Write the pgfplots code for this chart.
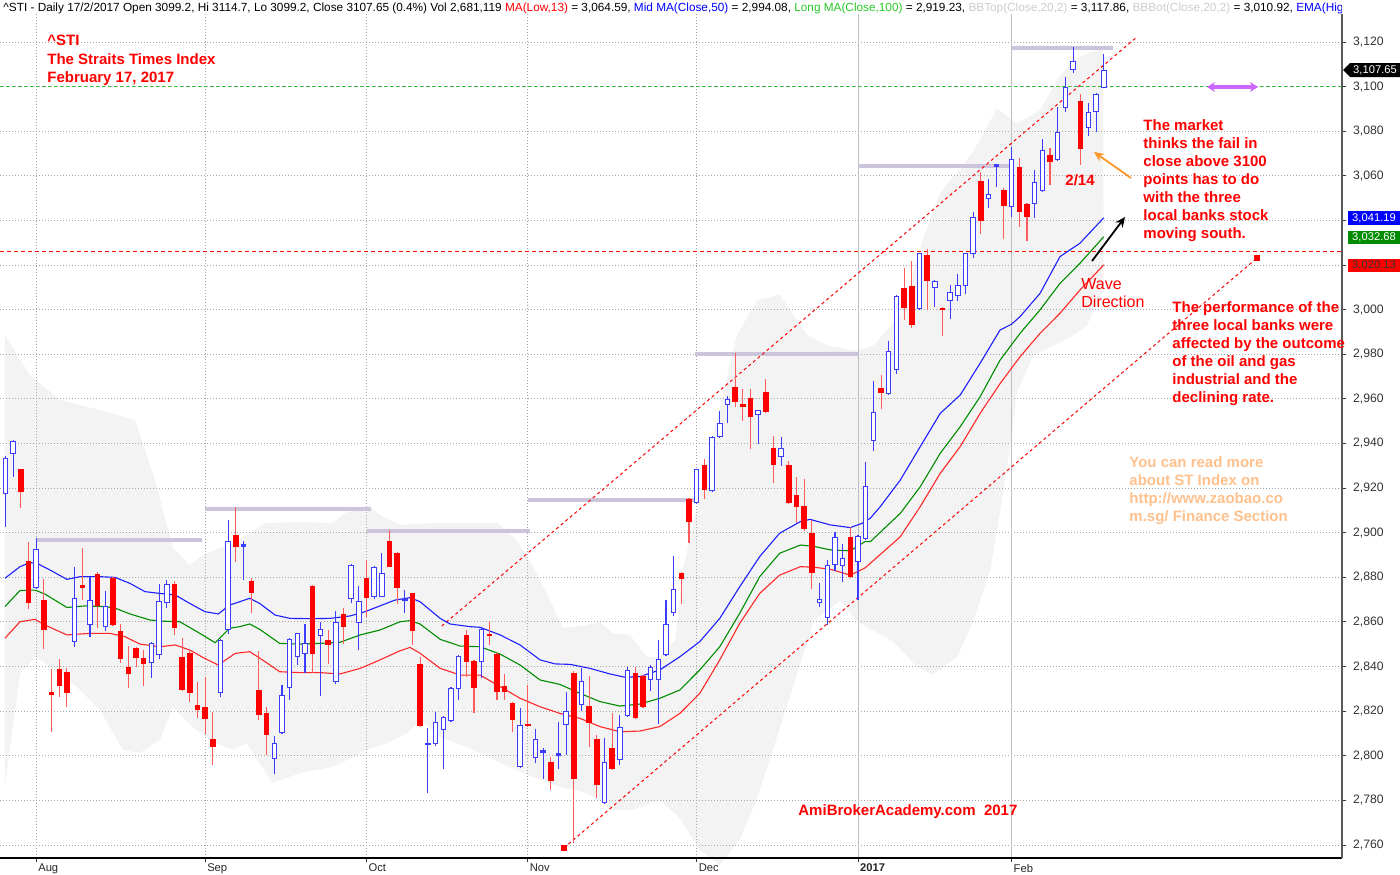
\documentclass[border=0pt]{standalone}
\usepackage{pgfplots}
\pgfplotsset{compat=1.18}
\usepackage{pgfplotstable}
\usepackage{fontspec}
\setmainfont{Liberation Sans}
\usetikzlibrary{arrows.meta}
\definecolor{cblue}{RGB}{60,60,255}
\definecolor{cwickred}{RGB}{255,90,90}
\definecolor{bbfill}{RGB}{243,243,243}
\definecolor{resist}{RGB}{204,196,218}
\definecolor{magarrow}{RGB}{204,102,255}
\definecolor{peach}{RGB}{255,192,140}
\definecolor{maBlue}{RGB}{30,30,255}
\definecolor{maGreen}{RGB}{0,140,0}
\definecolor{maRed}{RGB}{255,40,40}
\definecolor{hdrgreen}{RGB}{40,200,40}
\definecolor{orarrow}{RGB}{255,150,40}
\definecolor{dashred}{RGB}{255,0,0}

\pgfplotstableread{
i o h l c
0 2917.4 2934.5 2902.6 2933.6
1 2935.5 2941.5 2925.0 2941.2
4 2875.1 2897.8 2874.8 2892.6
9 2850.9 2884.5 2848.9 2870.6
11 2858.6 2880.3 2853.4 2869.7
13 2857.9 2874.0 2856.0 2867.2
19 2841.4 2851.0 2835.0 2850.4
20 2845.2 2877.0 2843.6 2869.4
21 2868.3 2879.0 2866.4 2877.0
28 2828.3 2852.5 2826.5 2851.8
29 2856.4 2905.7 2854.5 2896.4
31 2894.0 2896.5 2878.8 2894.8
35 2798.4 2809.0 2791.8 2805.6
36 2810.2 2831.7 2810.0 2827.3
37 2830.3 2852.8 2825.0 2852.3
38 2844.2 2855.2 2840.7 2854.9
39 2845.6 2859.0 2837.3 2850.4
41 2853.7 2860.0 2826.8 2856.9
43 2832.9 2865.0 2832.0 2860.0
45 2870.2 2885.8 2868.7 2885.5
46 2859.4 2876.0 2847.4 2869.4
48 2871.0 2885.2 2870.5 2884.8
49 2871.3 2890.9 2871.0 2881.8
52 2869.6 2874.3 2863.9 2870.4
55 2804.9 2812.3 2783.5 2805.7
56 2805.1 2819.6 2804.5 2815.0
57 2811.6 2817.8 2793.9 2817.3
58 2815.6 2830.8 2815.0 2830.3
59 2829.8 2845.2 2825.0 2844.8
62 2842.2 2857.9 2834.7 2856.7
67 2794.9 2821.3 2794.5 2813.7
69 2799.0 2811.9 2796.9 2807.4
70 2801.5 2803.3 2789.5 2802.3
72 2800.3 2815.3 2793.9 2801.1
73 2813.7 2828.8 2800.4 2820.1
75 2822.7 2839.5 2820.2 2833.7
78 2778.7 2807.9 2778.3 2797.4
80 2798.1 2818.3 2795.9 2813.1
81 2817.9 2840.0 2817.5 2838.5
84 2834.0 2840.5 2829.2 2839.7
85 2834.0 2851.9 2814.3 2843.6
86 2845.2 2869.8 2844.8 2859.1
87 2864.2 2889.6 2862.7 2874.6
90 2913.2 2928.8 2912.8 2928.4
92 2918.8 2943.4 2918.4 2943.0
93 2943.0 2954.7 2942.6 2949.0
94 2957.4 2961.3 2949.0 2959.8
98 2952.8 2955.2 2940.0 2954.9
101 2934.1 2943.0 2930.0 2937.8
106 2868.6 2877.3 2866.5 2870.4
107 2861.6 2888.0 2858.6 2885.5
108 2885.5 2900.5 2883.0 2897.9
109 2885.2 2895.0 2878.0 2888.8
111 2886.7 2899.1 2869.7 2898.7
112 2897.1 2931.8 2896.7 2921.1
113 2941.3 2968.0 2936.8 2954.1
115 2962.2 2986.1 2961.8 2981.6
116 2973.0 3006.5 2971.0 3006.1
119 3000.3 3025.6 2999.9 3025.2
121 3009.9 3013.1 3001.0 3012.7
123 3004.0 3011.2 2995.7 3008.1
124 3006.3 3016.0 3004.0 3011.0
125 3010.6 3025.6 3007.0 3025.2
126 3024.8 3043.8 3023.0 3041.7
128 3049.5 3058.4 3045.4 3051.9
129 3064.3 3065.3 3055.1 3065.1
131 3045.9 3072.8 3041.7 3067.5
134 3047.4 3062.6 3041.0 3057.1
135 3053.2 3076.4 3052.8 3071.6
137 3067.1 3091.0 3066.7 3079.8
138 3090.3 3104.2 3088.8 3100.0
139 3107.4 3117.6 3106.0 3111.6
141 3081.3 3092.8 3077.9 3088.5
142 3088.5 3097.1 3079.5 3096.7
143 3099.2 3114.7 3099.2 3107.65
}\upC

\pgfplotstableread{
i o h l c
2 2928.4 2928.6 2911.2 2918.4
3 2887.5 2896.0 2865.8 2868.4
5 2869.8 2879.1 2848.0 2856.4
6 2828.3 2839.0 2810.8 2827.3
7 2839.0 2843.6 2826.5 2831.4
8 2837.7 2839.2 2821.8 2828.0
10 2876.3 2893.0 2869.8 2875.4
12 2881.5 2882.5 2857.2 2867.3
14 2879.6 2880.3 2858.0 2858.6
15 2855.8 2859.0 2841.8 2843.3
16 2839.8 2849.2 2830.3 2836.7
17 2848.3 2848.8 2840.0 2844.0
18 2843.8 2847.4 2831.4 2841.0
22 2876.9 2878.5 2854.2 2857.2
23 2844.1 2852.8 2829.0 2829.5
24 2846.2 2846.8 2824.3 2828.3
25 2822.7 2833.0 2817.0 2820.5
26 2822.0 2835.5 2809.8 2816.4
27 2807.4 2819.8 2795.9 2803.8
30 2899.0 2911.7 2887.1 2893.8
32 2878.5 2879.6 2863.9 2873.1
33 2829.5 2847.1 2816.1 2818.3
34 2819.3 2821.7 2800.4 2809.3
40 2876.1 2876.5 2837.0 2845.6
42 2851.9 2856.4 2841.0 2849.5
44 2863.6 2866.1 2850.1 2857.9
47 2879.7 2887.9 2862.4 2870.7
50 2896.4 2901.2 2884.5 2884.8
51 2891.1 2891.5 2868.1 2875.1
53 2872.8 2873.2 2849.7 2856.1
54 2841.2 2844.5 2813.0 2813.5
60 2854.2 2856.4 2835.5 2842.2
61 2842.5 2843.0 2819.0 2830.6
63 2854.5 2860.6 2849.5 2853.9
64 2845.6 2846.0 2825.0 2828.5
65 2831.3 2836.7 2825.0 2828.5
66 2823.8 2824.2 2810.8 2816.1
68 2814.1 2831.7 2813.0 2813.5
71 2797.4 2799.3 2784.6 2788.9
74 2837.0 2838.0 2760.8 2789.8
76 2822.3 2835.8 2804.1 2814.5
77 2807.4 2809.2 2781.0 2786.9
79 2803.3 2819.0 2793.5 2793.9
82 2837.0 2840.0 2816.4 2816.8
83 2835.9 2836.3 2821.6 2822.0
88 2881.8 2882.2 2868.0 2879.1
89 2915.1 2915.5 2895.3 2904.7
91 2930.4 2932.9 2915.0 2919.2
95 2965.5 2980.4 2956.2 2958.7
96 2957.7 2964.3 2950.2 2956.2
97 2960.3 2964.5 2937.5 2952.0
99 2963.3 2968.8 2953.9 2954.3
100 2938.2 2943.3 2922.5 2930.6
102 2930.4 2932.0 2912.8 2913.2
103 2916.9 2925.0 2904.3 2911.4
104 2912.1 2924.0 2901.0 2901.5
105 2900.0 2905.5 2874.6 2881.8
110 2897.9 2902.7 2879.8 2880.3
114 2964.9 2970.6 2955.3 2962.8
117 3009.9 3018.5 2995.4 3000.6
118 3010.8 3022.0 2991.6 2993.1
120 3024.5 3027.0 2999.9 3013.0
122 3000.6 3001.0 2988.2 2999.9
127 3057.8 3061.6 3033.8 3039.8
130 3053.8 3054.5 3031.5 3046.6
132 3063.8 3068.1 3037.2 3043.9
133 3047.3 3047.7 3030.9 3041.7
136 3069.3 3072.3 3055.9 3066.4
140 3093.6 3096.7 3064.9 3072.0
}\downC

\pgfplotsset{candle/.style={only marks, mark=text, text mark={}, error bars/y explicit, error bars/error mark=none}}

\begin{document}
\begin{tikzpicture}
\begin{axis}[
  at={(0pt,-7pt)}, anchor=north west,
  scale only axis, width=671pt, height=422pt,
  xmin=-0.716, xmax=174.02, ymin=2754.18, ymax=3132.55,
  set layers,
  axis x line*=bottom, axis y line*=right,
  x axis line style={-, black, line width=1pt},
  y axis line style={-, black!65, line width=0.7pt},
  xtick={4,26,47,68,90}, xticklabels={Aug,Sep,Oct,Nov,Dec},
  extra x ticks={111,131}, extra x tick labels={\textbf{2017},Feb},
  extra x tick style={grid=major, major grid style={solid, color=black!25, line width=0.5pt}},
  ytick={2760,2780,2800,2820,2840,2860,2880,2900,2920,2940,2960,2980,3000,3060,3080,3100,3120},
  extra y ticks={3020,3040}, extra y tick labels={},
  extra y tick style={grid=major, major grid style={dash pattern=on 0.5pt off 1pt, color=black!35, line width=0.5pt}},
  xmajorgrids, ymajorgrids,
  major grid style={dash pattern=on 0.5pt off 1pt, color=black!35, line width=0.5pt},
  tick align=outside, major tick length=2pt,
  tick style={black!80, line width=0.5pt},
  xticklabel style={anchor=north west, font=\fontsize{5.6}{6}\selectfont, text=black!85, xshift=-2.5pt, yshift=2.5pt},
  yticklabel style={font=\fontsize{6.1}{7}\selectfont, text=black!80, /pgf/number format/1000 sep={,}, /pgf/number format/assume math mode=true},
]
% Bollinger band area
\addplot[on layer=axis background, fill=bbfill, draw=none] coordinates {
(-0.07,2988.6) (3.19,2970.7) (7.10,2959.5) (12.30,2955.0) (16.86,2950.5) (19.47,2923.6) (21.81,2893.2) (24.02,2885.5) (25.72,2890.0) (29.62,2895.4) (33.92,2904.4) (38.35,2904.8) (42.64,2904.4) (44.47,2909.3) (47.72,2911.1) (48.76,2907.9) (51.37,2903.5) (55.66,2904.4) (64.0,2904.4) (66.6,2896.7) (69.2,2881.9) (72.6,2857.3) (75.7,2858.6) (77.4,2860.0) (79.1,2855.0) (81.3,2854.2) (83.5,2844.3) (85.2,2844.3) (87.2,2851.9) (88.2,2883.3) (91.7,2937.1) (95.2,2988.4) (97.9,3004.4) (100.8,3006.7) (104.4,2988.4) (107.0,2983.9) (110.9,2981.6) (113.0,2983.9) (116.5,2997.6) (119.5,3031.9) (121.7,3052.4) (126.0,3070.8) (129.1,3090.2) (131.7,3083.3) (134.7,3089.5) (136.9,3102.8) (139.0,3111.9) (142.9,3117.8)
(143.0,3008.8) (140.8,2993.0) (139.0,2988.4) (136.4,2983.9) (133.8,2979.3) (131.7,2963.3) (130.8,2938.1) (129.9,2917.5) (128.2,2883.2) (126.0,2860.3) (123.9,2844.3) (120.8,2836.3) (118.7,2839.8) (115.6,2851.2) (110.8,2860.3) (108.7,2869.5) (105.2,2860.3) (102.1,2826.0) (97.8,2780.3) (95.6,2762.4) (93.0,2751.1) (90.4,2757.8) (87.8,2772.1) (85.2,2780.2) (81.7,2775.7) (79.1,2775.7) (75.7,2783.3) (72.2,2786.0) (68.7,2790.5) (64.4,2796.8) (60.1,2803.9) (56.6,2808.4) (54.0,2816.0) (52.3,2810.2) (49.7,2805.7) (47.1,2802.6) (42.6,2795.0) (38.35,2792.3) (34.8,2787.8) (31.4,2805.7) (29.6,2802.6) (27.0,2806.2) (24.4,2812.9) (21.8,2821.9) (20.1,2807.1) (17.5,2801.3) (15.3,2802.6) (12.3,2820.5) (9.31,2830.8) (5.79,2839.8) (3.97,2844.3) (1.89,2837.1) (-0.07,2786.0)
} -- cycle;
% resistance lines
\addplot[resist, line width=2.3pt] coordinates {(4.1,2896.7) (25.6,2896.7)};
\addplot[resist, line width=2.3pt] coordinates {(26.0,2910.6) (47.6,2910.6)};
\addplot[resist, line width=2.3pt] coordinates {(47.1,2900.8) (68.3,2900.8)};
\addplot[resist, line width=2.3pt] coordinates {(68.0,2914.7) (89.8,2914.7)};
\addplot[resist, line width=2.3pt] coordinates {(89.8,2980.1) (111.0,2980.1)};
\addplot[resist, line width=2.3pt] coordinates {(111.0,3064.4) (131.0,3064.4)};
\addplot[resist, line width=2.3pt] coordinates {(131.0,3117.3) (144.2,3117.3)};
% horizontal dashed lines
\addplot[color=dashred, line width=0.6pt, dash pattern=on 2pt off 1.5pt] coordinates {(-0.716,3026.1) (174.02,3026.1)};
\addplot[color=hdrgreen, line width=0.5pt, dash pattern=on 1.5pt off 1.5pt] coordinates {(-0.716,3100) (174.02,3100)};
% trend channel
\addplot[color=dashred, line width=0.5pt, dash pattern=on 1.5pt off 1.5pt] coordinates {(56.8,2858.2) (147.3,3122.2)};
\addplot[color=dashred, line width=0.5pt, dash pattern=on 1.5pt off 1.5pt, mark=square*, mark size=1.4pt, mark options={solid, fill=dashred}] coordinates {(72.7,2758.7) (162.96,3023.2)};
% moving averages
\addplot[maBlue, line width=0.55pt] coordinates {
(-0.07,2879.6) (1.89,2884.8) (3.19,2886.6) (4.10,2886.3) (5.79,2883.3) (8.0,2879.1) (9.7,2880.3) (12.3,2880.3) (14.26,2880.0) (16.2,2877.3) (18.16,2873.6) (20.1,2872.8) (22.1,2872.1) (24.0,2868.3) (25.98,2864.6) (27.7,2863.6) (29.2,2867.6) (31.8,2870.6) (33.1,2868.3) (35.1,2863.1) (37.05,2861.6) (39.65,2861.5) (42.25,2861.6) (44.86,2862.7) (46.8,2864.6) (48.76,2867.2) (50.7,2869.8) (52.67,2870.9) (53.97,2869.1) (56.6,2861.6) (57.88,2859.1) (60.5,2857.9) (61.8,2857.6) (64.4,2854.2) (67.0,2849.7) (69.6,2843.0) (71.55,2841.2) (73.5,2841.0) (76.1,2839.2) (78.7,2836.7) (80.7,2835.2) (82.6,2835.5) (85.2,2838.5) (87.8,2844.4) (90.4,2851.2) (93.0,2861.6) (95.6,2875.8) (98.2,2889.3) (100.8,2899.8) (103.5,2905.0) (104.75,2906.0) (107.4,2903.5) (110.0,2902.3) (111.5,2904.2) (112.6,2906.5) (113.9,2911.7) (116.5,2923.6) (119.1,2938.6) (121.7,2953.5) (124.3,2961.7) (126.9,2976.0) (129.5,2990.9) (131.0,2993.5) (132.1,2996.9) (134.7,3007.3) (137.3,3023.8) (139.9,3029.8) (143.0,3041.2)
};
\addplot[maGreen, line width=0.55pt] coordinates {
(-0.07,2866.9) (1.89,2874.1) (3.84,2874.3) (5.14,2872.5) (8.0,2866.5) (10.35,2867.2) (12.96,2866.9) (14.26,2866.2) (16.2,2863.6) (18.8,2860.9) (20.1,2860.4) (22.7,2860.1) (25.3,2854.9) (27.3,2850.7) (29.2,2857.2) (30.5,2857.9) (31.8,2859.1) (33.1,2856.7) (35.7,2850.4) (38.35,2850.1) (40.95,2850.4) (43.55,2850.9) (46.2,2854.2) (48.76,2856.4) (51.37,2860.1) (52.67,2860.6) (53.97,2859.1) (56.6,2852.2) (59.2,2849.2) (61.8,2848.9) (64.4,2845.6) (67.0,2840.7) (69.6,2834.0) (72.2,2832.0) (74.8,2828.0) (77.4,2824.3) (80.0,2822.3) (82.6,2823.2) (85.2,2825.8) (87.8,2829.5) (90.4,2838.5) (93.0,2848.9) (95.6,2863.9) (98.2,2880.3) (100.8,2890.8) (103.5,2894.5) (105.4,2893.8) (107.4,2892.3) (110.0,2891.9) (111.9,2896.0) (112.6,2896.0) (116.5,2908.7) (119.1,2920.6) (121.7,2935.6) (124.3,2947.5) (126.9,2961.0) (129.5,2977.4) (132.1,2989.4) (134.7,2999.9) (137.3,3011.8) (139.9,3020.8) (143.0,3032.7)
};
\addplot[maRed, line width=0.55pt] coordinates {
(-0.07,2852.7) (1.89,2860.1) (3.84,2861.2) (5.14,2858.6) (8.0,2854.2) (11.0,2854.9) (13.6,2854.9) (15.56,2853.4) (17.5,2850.1) (20.1,2848.9) (22.1,2849.7) (24.0,2847.4) (25.98,2843.6) (27.7,2840.7) (29.9,2845.9) (31.8,2846.7) (33.8,2842.2) (35.7,2837.7) (38.35,2837.3) (40.95,2837.3) (43.55,2836.7) (46.2,2839.2) (48.76,2843.0) (51.37,2847.1) (52.67,2848.6) (53.97,2846.0) (56.6,2839.2) (59.2,2836.2) (61.8,2836.2) (64.4,2831.0) (67.0,2825.8) (69.6,2822.0) (72.2,2819.0) (74.8,2816.8) (77.4,2813.1) (80.0,2810.8) (82.6,2811.1) (85.2,2813.1) (87.8,2819.0) (90.4,2828.0) (93.0,2843.0) (95.6,2859.4) (98.2,2872.8) (100.8,2881.0) (103.5,2884.8) (105.4,2884.5) (107.4,2883.6) (110.0,2881.0) (111.9,2884.2) (112.6,2886.3) (116.5,2898.2) (119.1,2911.7) (121.7,2926.6) (124.3,2938.6) (126.9,2953.5) (129.5,2966.9) (132.1,2978.9) (134.7,2989.4) (137.3,2998.4) (139.9,3008.8) (143.0,3020.1)
};
% wicks
\addplot[candle, error bars/y dir=plus, error bars/error bar style={line width=0.55pt, color=cblue}]
  table[x=i, y=l, y error expr=\thisrow{h}-\thisrow{l}] {\upC};
\addplot[candle, error bars/y dir=plus, error bars/error bar style={line width=0.55pt, color=cwickred}]
  table[x=i, y=l, y error expr=\thisrow{h}-\thisrow{l}] {\downC};
% bodies
\addplot[candle, error bars/y dir=both, error bars/error bar style={line width=2.75pt, color=cblue}]
  table[x=i, y expr=(\thisrow{o}+\thisrow{c})/2, y error expr={max(abs(\thisrow{c}-\thisrow{o})/2,0.6)}] {\upC};
\addplot[candle, error bars/y dir=both, error bars/error bar style={line width=1.75pt, color=white}]
  table[x=i, y expr=(\thisrow{o}+\thisrow{c})/2, y error expr={max(abs(\thisrow{c}-\thisrow{o})/2-0.45,0)}] {\upC};
\addplot[candle, error bars/y dir=both, error bars/error bar style={line width=2.75pt, color=red}]
  table[x=i, y expr=(\thisrow{o}+\thisrow{c})/2, y error expr={max(abs(\thisrow{c}-\thisrow{o})/2,0.6)}] {\downC};
\end{axis}

\begin{scope}[x=0.5pt, y=-0.5pt]
% header, clipped at the plot's right edge
\begin{scope}
\clip (0,0) rectangle (1341,16);
\node[anchor=base west, inner sep=0, font=\fontsize{5.9}{7}\selectfont] at (3,11) {\textasciicircum STI - Daily 17/2/2017 Open 3099.2, Hi 3114.7, Lo 3099.2, Close 3107.65 (0.4\%) Vol 2,681,119 \textcolor{red}{MA(Low,13)} = 3,064.59, \textcolor{blue}{Mid MA(Close,50)} = 2,994.08, \textcolor{hdrgreen}{Long MA(Close,100)} = 2,919.23, \textcolor{black!20}{BBTop(Close,20,2)} = 3,117.86, \textcolor{black!20}{BBBot(Close,20,2)} = 3,010.92, \textcolor{blue}{EMA(High,3}};
\end{scope}
\begin{scope}[every node/.style={anchor=base west, inner sep=0, text=red, font=\bfseries\fontsize{7.5}{9}\selectfont}]
\node at (47,45.7) {\textasciicircum STI};
\node at (47,64.3) {The Straits Times Index};
\node at (47,82.3) {February 17, 2017};
\node at (1143,130.5) {The market};
\node at (1143,148.5) {thinks the fail in};
\node at (1143,166.5) {close above 3100};
\node at (1143,184.5) {points has to do};
\node at (1143,202.5) {with the three};
\node at (1143,220.5) {local banks stock};
\node at (1143,238.5) {moving south.};
\node at (1065,185) {2/14};
\node at (1172,312.3) {The performance of the};
\node at (1172,330.3) {three local banks were};
\node at (1172,348.3) {affected by the outcome};
\node at (1172,366.3) {of the oil and gas};
\node at (1172,384.3) {industrial and the};
\node at (1172,402.3) {declining rate.};
\node at (798,815) {AmiBrokerAcademy.com\ \ 2017};
\node[text=peach] at (1129,467.3) {You can read more};
\node[text=peach] at (1129,485.3) {about ST Index on};
\node[text=peach] at (1129,503.3) {http://www.zaobao.co};
\node[text=peach] at (1129,521.3) {m.sg/ Finance Section};
\end{scope}
\node[anchor=base west, inner sep=0, text=red, font=\fontsize{8}{9}\selectfont] at (1081,289.3) {Wave};
\node[anchor=base west, inner sep=0, text=red, font=\fontsize{8}{9}\selectfont] at (1081,307.3) {Direction};
% arrows
\draw[-{Stealth[length=5pt,width=4.5pt]}, orarrow, line width=0.9pt] (1131,178) -- (1094,152);
\draw[-{Stealth[length=5pt,width=4.5pt]}, black, line width=0.9pt] (1092,261) -- (1125,217);
\draw[{Stealth[length=4pt,width=5pt]}-{Stealth[length=4pt,width=5pt]}, magarrow, line width=1.6pt] (1207,87) -- (1258,87);
% value boxes
\fill[black] (1343,70) -- (1350,63) -- (1400,63) -- (1400,77) -- (1350,77) -- cycle;
\node[text=white, inner sep=0, font=\fontsize{5.6}{6}\selectfont] at (1375,70) {3,107.65};
\fill[blue] (1348,211) rectangle (1400,225);
\node[text=white, inner sep=0, font=\fontsize{5.6}{6}\selectfont] at (1374,218) {3,041.19};
\fill[maGreen] (1348,231) rectangle (1400,244);
\node[text=white, inner sep=0, font=\fontsize{5.6}{6}\selectfont] at (1374,237.5) {3,032.68};
\fill[red] (1348,259) rectangle (1400,272);
\node[text=black!80, inner sep=0, font=\fontsize{5.6}{6}\selectfont] at (1374,265.5) {3,020.13};
\end{scope}
\pgfresetboundingbox
\useasboundingbox (0,0) rectangle (700pt,-437pt);
\end{tikzpicture}
\end{document}
